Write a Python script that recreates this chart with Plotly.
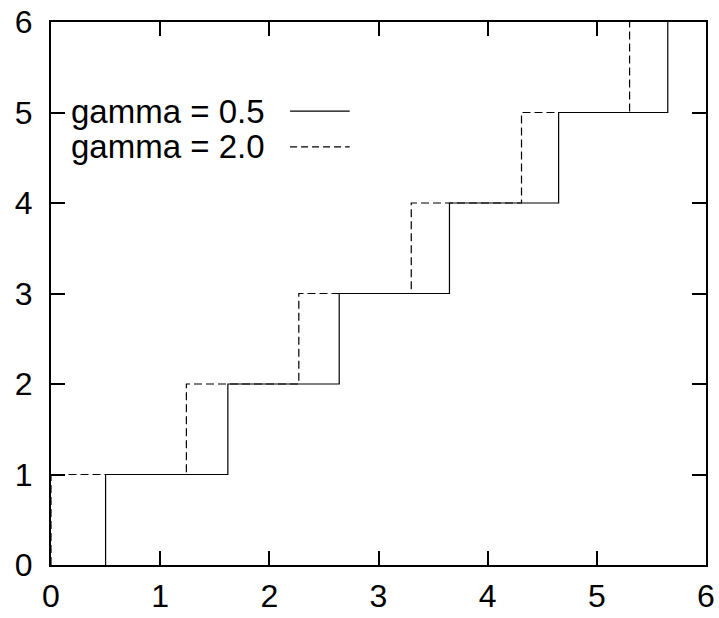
import plotly.graph_objects as go

# Data: x positions where each step rises by one level
levels = [0, 1, 2, 3, 4, 5]
jumps_gamma_05 = [0.50, 1.62, 2.64, 3.65, 4.65, 5.65]
jumps_gamma_20 = [0.00, 1.24, 2.27, 3.30, 4.31, 5.30]
series_names = ["gamma = 0.5", "gamma = 2.0"]
tick_vals = [0, 1, 2, 3, 4, 5, 6]


def staircase(jumps, lvls):
    xs, ys = [], []
    for i, (xj, lv) in enumerate(zip(jumps, lvls)):
        xs += [xj, xj]
        ys += [lv, lv + 1]
        if i + 1 < len(jumps):
            xs.append(jumps[i + 1])
            ys.append(lv + 1)
    return xs, ys


FONT = "Liberation Sans, Arial, Helvetica, sans-serif"
FS = 32
fig = go.Figure()

x1, y1 = staircase(jumps_gamma_05, levels)
x2, y2 = staircase(jumps_gamma_20, levels)
fig.add_trace(go.Scatter(x=x1, y=y1, mode="lines", name=series_names[0],
                         line=dict(color="black", width=1.2), showlegend=False))
fig.add_trace(go.Scatter(x=x2, y=y2, mode="lines", name=series_names[1],
                         line=dict(color="black", width=1.2, dash="8px,4px"), showlegend=False))

axis_common = dict(
    range=[0, 6], tickvals=tick_vals, ticks="inside", ticklen=14, tickwidth=2,
    tickcolor="black", showline=True, linecolor="black", linewidth=2, mirror="ticks",
    showgrid=False, zeroline=False, automargin=False,
    tickfont=dict(family=FONT, size=FS, color="black"),
)
fig.update_xaxes(**axis_common, ticklabelstandoff=2)
fig.update_yaxes(**axis_common, ticklabelstandoff=10)

# gnuplot-style key: text on the left, line sample on the right
key_y = [0.836, 0.770]
dashes = ["solid", "7px,4px"]
for name, ky, dsh in zip(series_names, key_y, dashes):
    fig.add_annotation(xref="paper", yref="paper", x=0.028, y=ky, text=name,
                       showarrow=False, xanchor="left", yanchor="middle",
                       font=dict(family=FONT, size=33, color="black"))
    fig.add_shape(type="line", xref="paper", yref="paper", x0=0.365, x1=0.456,
                  y0=ky, y1=ky, line=dict(color="black", width=1.2, dash=dsh))

fig.update_layout(
    width=719, height=618,
    margin=dict(l=51, r=13, t=22, b=53),
    plot_bgcolor="white", paper_bgcolor="white",
    showlegend=False,
)
fig.write_html(
    "out.html",
    config={"displayModeBar": False},
    post_script="document.body.style.margin='0';document.body.style.overflow='hidden';",
)
